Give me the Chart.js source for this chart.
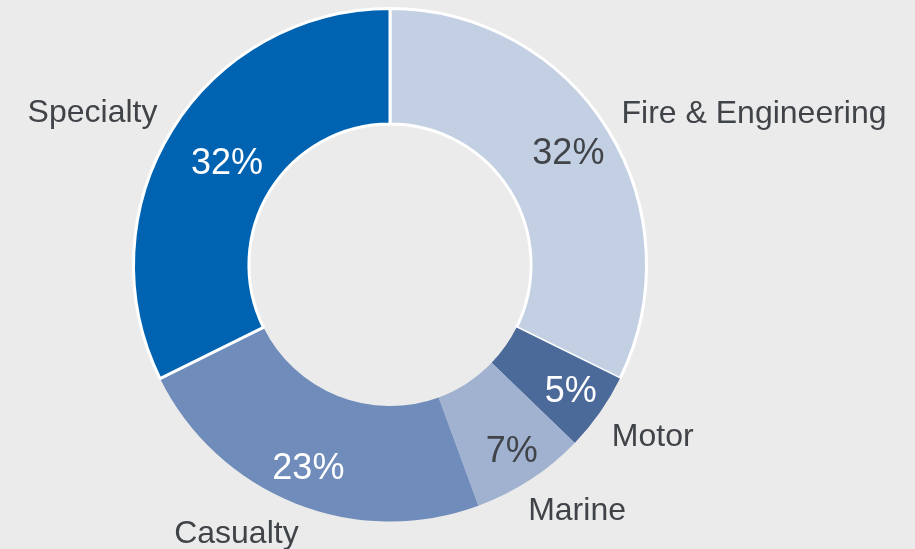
<!DOCTYPE html>
<html>
<head>
<meta charset="utf-8">
<script src="https://cdn.jsdelivr.net/npm/chart.js@4/dist/chart.umd.min.js"></script>
<style>
  html, body { margin: 0; padding: 0; background: #ebebeb; overflow: hidden; }
  #wrap { position: relative; width: 915px; height: 549px; }
</style>
</head>
<body>
<div id="wrap"><canvas id="chart-mix" width="915" height="549"></canvas></div>
<script>
/* ── 資料 ───────────────────────────── */
const categories = ['Fire & Engineering', 'Motor', 'Marine', 'Casualty', 'Specialty'];
const shares     = [32.3, 4.9, 7.2, 23.3, 32.3];
const shareText  = ['32%', '5%', '7%', '23%', '32%'];

/* ── 樣式 ───────────────────────────── */
const sliceColors = ['#c3cfe2', '#4b6a9a', '#a0b2d0', '#6f8cba', '#0063b1'];
const sliceBorder = [3, 0, 0, 0, 3];
const pctColors   = ['#404448', '#ffffff', '#404448', '#ffffff', '#ffffff'];
const pctRadius   = [210, 221, 223, 220, 192];   // 百分比文字與圓心距離
const nameShiftX  = [-5, -6, -14, 12, 4];         // 類別名稱微調
const nameShiftY  = [0, 6, 7, 5, -1];
const TEXT_DARK   = '#404448';
const FONT        = '"Liberation Sans", Arial, sans-serif';

/* 在扇形上與外圍繪製文字 */
const sliceLabels = {
  id: 'sliceLabels',
  afterDatasetsDraw(chart) {
    const ctx  = chart.ctx;
    const arcs = chart.getDatasetMeta(0).data;
    ctx.save();
    arcs.forEach((arc, i) => {
      const p   = arc.getProps(['x', 'y', 'startAngle', 'endAngle', 'outerRadius'], true);
      const mid = (p.startAngle + p.endAngle) / 2;
      const cos = Math.cos(mid), sin = Math.sin(mid);

      // 百分比
      ctx.font = '36px ' + FONT;
      ctx.fillStyle = pctColors[i];
      ctx.textAlign = 'center';
      ctx.textBaseline = 'middle';
      ctx.fillText(shareText[i], p.x + cos * pctRadius[i], p.y + sin * pctRadius[i]);

      // 類別名稱
      const r = p.outerRadius + 22;
      ctx.font = '32px ' + FONT;
      ctx.fillStyle = TEXT_DARK;
      ctx.textAlign = cos >= 0 ? 'left' : 'right';
      ctx.fillText(categories[i],
        p.x + cos * r + nameShiftX[i],
        p.y + sin * r + (sin > 0 ? 6 : -4) + nameShiftY[i]);
    });
    ctx.restore();
  }
};

new Chart(document.getElementById('chart-mix').getContext('2d'), {
  type: 'doughnut',
  data: {
    labels: categories,
    datasets: [{
      data: shares,
      backgroundColor: sliceColors,
      borderColor: '#ffffff',
      borderWidth: sliceBorder,
      hoverOffset: 0,
      offset: 0
    }]
  },
  options: {
    responsive: false,
    animation: false,
    cutout: '55%',
    rotation: 0,
    layout: { padding: { left: 132, top: 7, right: 267, bottom: 26 } },
    plugins: {
      legend: { display: false },
      tooltip: { enabled: false }
    }
  },
  plugins: [sliceLabels]
});
</script>
</body>
</html>
